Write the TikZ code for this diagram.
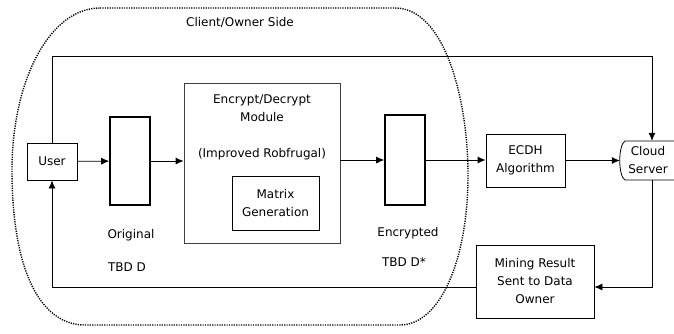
\documentclass[tikz,border=0pt]{standalone}
\usepackage{fontspec}
\setmainfont{DejaVu Sans}
\usetikzlibrary{calc,arrows.meta}

\newcommand{\boxfont}{\fontsize{12}{18}\selectfont}

\tikzset{
  box/.style={draw, line width=0.8pt, inner sep=0pt, align=center, font=\boxfont},
  databox/.style={draw, line width=1.6pt, inner sep=0pt, minimum width=40pt},
  txt/.style={inner sep=0pt, align=center, font=\boxfont},
  flow/.style={-{Latex[length=8pt,width=7pt]}, line width=0.8pt},
  region/.style={line width=1.4pt, dash pattern=on 1.2pt off 1.2pt}
}

\begin{document}
\begin{tikzpicture}[x=1pt,y=-1pt]
            \useasboundingbox (0,0) rectangle (674,333);

            % client / owner side
            \draw[region] (100,8) -- (395,8)
                .. controls (445,8) and (468,100) .. (468,175)
                .. controls (468,260) and (440,325) .. (400,325)
                -- (85,325)
                .. controls (40,325) and (12,270) .. (12,170)
                .. controls (12,80) and (50,8) .. (100,8);
            \node[txt] (side) at (240,22) {Client/Owner Side};

            \node[box, minimum width=50pt, minimum height=37pt] (user) at (52,161.5) {User};
            \node[databox, minimum height=88pt] (orig) at (130,161) {};
            \node[txt] (origtxt) at (131,235) {Original};
            \node[txt] (origtbd) at (127,267) {TBD D};

            \node[box, draw=black!75, minimum width=156pt, minimum height=160pt] (module) at (262,163) {};
            \node[txt] (modtxt) at (262,108) {Encrypt/Decrypt\\Module};
            \node[txt] (modsub) at (262,154) {(Improved Robfrugal)};
            \node[box, minimum width=87pt, minimum height=54pt] (matrix) at (275.5,203) {Matrix\\Generation};

            \node[databox, minimum height=90pt] (enc) at (405,160) {};
            \node[txt] (enctxt) at (408,233) {Encrypted};
            \node[txt] (enctbd) at (404,262) {TBD D*};

            \node[box, minimum width=79pt, minimum height=53pt] (ecdh) at (525.5,160.5) {ECDH\\Algorithm};

            \node[txt, minimum width=56pt, minimum height=39pt] (cloud) at (648,160.5) {Cloud\\Server};
            \draw[line width=0.8pt] (674,141) -- (625,141)
                .. controls (618,145) and (618,176) .. (625,180) -- (674,180);

            \node[box, minimum width=118pt, minimum height=73pt] (mining) at (535,281.5) {Mining Result\\Sent to Data\\Owner};

            \coordinate (top) at (652,56);
            \coordinate (back) at (652,287);

            \draw[flow] (user) -- (orig);
            \draw[flow] (orig) -- (orig -| module.west);
            \draw[flow] (module.east |- enc) -- (enc);
            \draw[flow] (enc) -- (enc -| ecdh.west);
            \draw[flow] (ecdh) -- (ecdh -| cloud.west);
            \draw[flow] (user.north) |- (top) -- (top |- cloud.north);
            \draw[flow] (top |- cloud.south) -- (back) -- (back -| mining.east);
            \draw[flow] (back -| mining.west) -| (user.south);
        \end{tikzpicture}
\end{document}
